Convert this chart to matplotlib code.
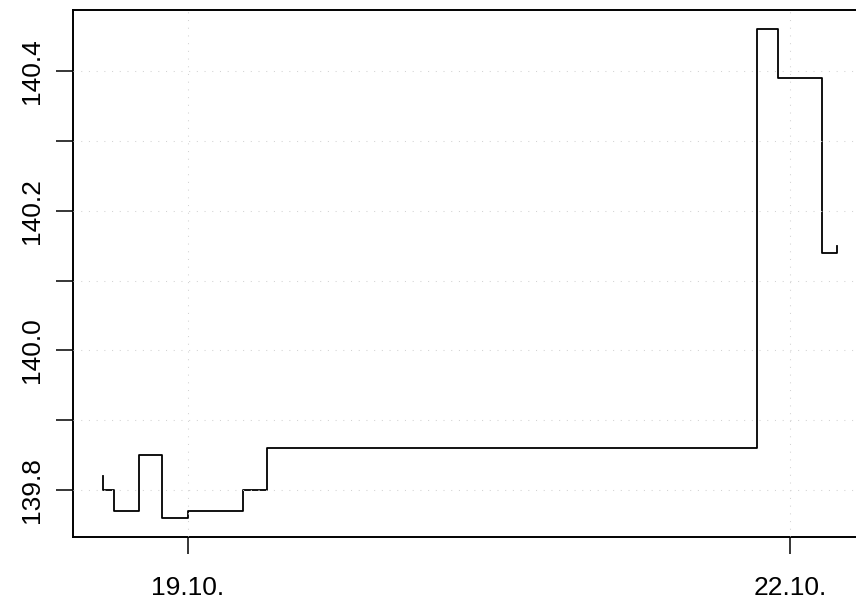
import matplotlib
matplotlib.use("Agg")
import matplotlib.pyplot as plt
import matplotlib.dates as mdates
import pandas as pd
import numpy as np

# price quotes, plotted as a step series
times = pd.to_datetime([
    "2020-10-18 13:50", "2020-10-18 13:55", "2020-10-18 15:12",
    "2020-10-18 18:11", "2020-10-18 20:56", "2020-10-19 00:02",
    "2020-10-19 06:36", "2020-10-19 09:26", "2020-10-21 19:59",
    "2020-10-21 22:29", "2020-10-22 03:49", "2020-10-22 05:37",
])
prices = [139.82, 139.80, 139.77, 139.85, 139.76, 139.77,
          139.80, 139.86, 140.46, 140.39, 140.14, 140.15]

date_ticks = pd.to_datetime(["2020-10-19", "2020-10-22"])
price_ticks = [139.8, 139.9, 140.0, 140.1, 140.2, 140.3, 140.4]
price_labels = ["139.8", "", "140.0", "", "140.2", "", "140.4"]

plt.rcParams["font.family"] = ["Liberation Sans", "DejaVu Sans"]

fig = plt.figure(figsize=(8.56, 6.01), dpi=100)
ax = fig.add_axes([72.7 / 856, 1 - 537 / 601, 1 - 72.7 / 856, (537 - 10) / 601])

ax.plot(times, prices, drawstyle="steps-post", color="black", lw=1.3)

# grid drawn over the line, like R's grid()
ax.set_axisbelow(False)
ax.grid(True, color="#D3D3D3", lw=0.75, ls=(0, (1, 6.4)))

ax.set_xlim(pd.Timestamp("2020-10-18 10:16"), pd.Timestamp("2020-10-22 07:51"))
ax.set_ylim(139.7326, 140.4878)

ax.set_xticks(date_ticks)
ax.xaxis.set_major_formatter(mdates.DateFormatter("%d.%m."))
ax.set_yticks(price_ticks)
ax.set_yticklabels(price_labels)

ax.tick_params(axis="both", length=12, width=1.1, labelsize=19, color="black")
ax.tick_params(axis="x", pad=16)
ax.tick_params(axis="y", pad=9, labelrotation=90)
plt.setp(ax.get_yticklabels(), va="center")

for side in ["left", "top", "bottom"]:
    ax.spines[side].set_linewidth(1.4)
ax.spines["right"].set_visible(False)

fig.savefig("out.png", dpi=100)
